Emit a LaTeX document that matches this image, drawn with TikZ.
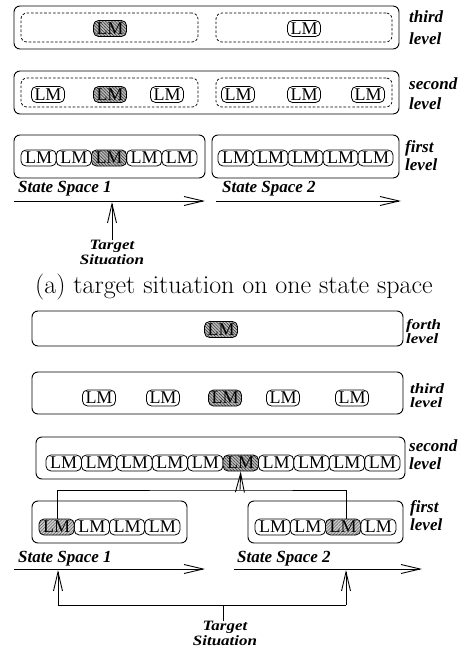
\documentclass[tikz,border=0pt]{standalone}
\usepackage{fontspec}
\newfontfamily\tfont{Liberation Serif}
\usetikzlibrary{arrows.meta,patterns.meta}

% squeeze tightly stacked label lines a little in height
\newcommand\squash[1]{\scalebox{1}[0.84]{#1}}

\tikzset{
  x=1pt, y=-1pt,
  thin line/.style={line width=0.9pt},
  levelbox/.style={draw, thin line, rounded corners=6pt, inner sep=0pt},
  groupbox/.style={draw, line width=0.7pt, dash pattern=on 2.6pt off 1.8pt, rounded corners=6pt, inner sep=0pt},
  lm/.style={draw, line width=0.8pt, rounded corners=5pt, minimum width=33pt, minimum height=16pt,
    inner sep=0pt, font=\tfont\fontsize{18}{18}\selectfont},
  lmrow/.style={lm, minimum width=35.2pt},
  shadeA/.style={preaction={fill=gray!55}, pattern={Lines[angle=-45,distance=2.2pt,line width=0.5pt]}, pattern color=black!80},
  shadeB/.style={preaction={fill=gray!40}, pattern={Lines[angle=45,distance=2.2pt,line width=0.45pt]}, pattern color=black!65},
  lbl/.style={font=\tfont\bfseries\itshape\fontsize{17}{17}\selectfont, inner sep=0pt, anchor=base west},
  ctr/.style={lbl, anchor=base},
  axis/.style={thin line, -{Straight Barb[length=19pt,width=9pt,line width=0.9pt]}},
  link/.style={thin line},
}

\begin{document}
\begin{tikzpicture}
\useasboundingbox (0,0) rectangle (467,650);

% ---------------- (a) ----------------
% third level
\node[levelbox, minimum width=385pt, minimum height=43pt] (a3) at (206.5,27.5) {};
\node[groupbox, minimum width=177pt, minimum height=29pt] (a3g1) at (109.5,27.5) {};
\node[groupbox, minimum width=176pt, minimum height=29pt] (a3g2) at (304,27.5) {};
\node[lm, shadeA] (a3m1) at (110,28.5) {LM};
\node[lm] (a3m2) at (304,28.5) {LM};
\node[lbl] (a3t) at (409,23) {third};
\node[lbl] (a3l) at (409,45) {level};

% second level
\node[levelbox, minimum width=385pt, minimum height=43pt] (a2) at (206.5,92.5) {};
\node[groupbox, minimum width=177pt, minimum height=29pt] (a2g1) at (109.5,92.5) {};
\node[groupbox, minimum width=176pt, minimum height=29pt] (a2g2) at (304,92.5) {};
\foreach \i/\x/\s in {1/48/,2/110/shadeA,3/167/,4/238/,5/304/,6/368/}
  \node[lm,\s] (a2m\i) at (\x,94.5) {LM};
\node[lbl] (a2t) at (409,90) {second};
\node[lbl] (a2l) at (409,110) {level};

% first level
\node[levelbox, minimum width=191pt, minimum height=43pt] (a1L) at (109.5,156.5) {};
\node[levelbox, minimum width=187pt, minimum height=43pt] (a1R) at (305.5,156.5) {};
\foreach \i/\s [evaluate=\i as \x using 21+35.2*(\i-0.5)] in {1/,2/,3/shadeA,4/,5/}
  \node[lmrow,\s] (a1l\i) at (\x,158) {LM};
\foreach \i [evaluate=\i as \x using 218+35*(\i-0.5)] in {1,...,5}
  \node[lmrow, minimum width=35pt] (a1r\i) at (\x,158) {LM};
\node[lbl] (a1t) at (405,153) {first};
\node[lbl] (a1l) at (405,170) {level};

% state space axes
\node[lbl] (ssa1) at (18,192) {State Space 1};
\node[lbl] (ssa2) at (222,192) {State Space 2};
\coordinate (ax1s) at (14,201);  \coordinate (ax1e) at (205,201);
\coordinate (ax2s) at (216,201); \coordinate (ax2e) at (401,201);
\draw[axis] (ax1s) -- (ax1e);
\draw[axis] (ax2s) -- (ax2e);

% target situation
\node[ctr] (tgA) at (112,249) {\squash{Target}};
\node[ctr] (stA) at (112,264) {\squash{Situation}};
\coordinate (tipA) at (112,202);
\draw[axis] ([yshift=-1pt]tgA.north) -- (tipA);

% caption
\node[font=\fontsize{26}{26}\selectfont, inner sep=0pt, anchor=base] (cap) at (234,293)
  {(a) target situation on one state space};

% ---------------- (b) ----------------
% forth level
\node[levelbox, minimum width=371pt, minimum height=35pt] (b4) at (217.5,328.5) {};
\node[lm, shadeA] (b4m) at (221,329.5) {LM};
\node[lbl] (b4t) at (406,329) {\squash{forth}};
\node[lbl] (b4l) at (406,343) {\squash{level}};

% third level
\node[levelbox, minimum width=371pt, minimum height=42pt] (b3) at (217.5,393) {};
\foreach \i/\x/\s in {1/99/,2/163/,3/225/shadeA,4/283/,5/352/}
  \node[lm,\s] (b3m\i) at (\x,398) {LM};
\node[lbl] (b3t) at (410,393) {\squash{third}};
\node[lbl] (b3l) at (410,407) {\squash{level}};

% second level
\node[levelbox, minimum width=369pt, minimum height=42pt] (b2) at (220.5,458) {};
\foreach \i/\s [evaluate=\i as \x using 46+35.4*(\i-0.5)] in {1/,2/,3/,4/,5/,6/shadeA,7/,8/,9/,10/}
  \node[lm,\s, minimum width=35.4pt] (b2m\i) at (\x,463) {LM};
\node[lbl] (b2t) at (409,451) {second};
\node[lbl] (b2l) at (409,469) {level};

% first level
\node[levelbox, minimum width=155pt, minimum height=42pt] (b1L) at (109.5,522) {};
\node[levelbox, minimum width=155pt, minimum height=42pt] (b1R) at (325.5,522) {};
\foreach \i/\s [evaluate=\i as \x using 39+35.25*(\i-0.5)] in {1/shadeB,2/,3/,4/}
  \node[lm,\s, minimum width=35.25pt] (b1l\i) at (\x,527) {LM};
\foreach \i/\s [evaluate=\i as \x using 255+35.25*(\i-0.5)] in {1/,2/,3/shadeB,4/}
  \node[lm,\s, minimum width=35.25pt] (b1r\i) at (\x,527) {LM};
\node[lbl] (b1t) at (410,512) {first};
\node[lbl] (b1l) at (410,530) {level};

% links from the first level up to the second level
\coordinate (hub) at (240,490);
\draw[link] ([xshift=1pt]b1l1.north) |- (hub) -| ([xshift=3pt]b1r3.north);
\draw[axis] (hub) -- (b2m6.south);

% state space axes
\node[lbl] (ssb1) at (18,562) {State Space 1};
\node[lbl] (ssb2) at (237,562) {State Space 2};
\coordinate (bx1s) at (14,569);  \coordinate (bx1e) at (205,569);
\coordinate (bx2s) at (234,569); \coordinate (bx2e) at (422,569);
\draw[axis] (bx1s) -- (bx1e);
\draw[axis] (bx2s) -- (bx2e);

% target situation on both state spaces
\coordinate (jl) at (58,605);  \coordinate (jr) at (346,605);
\coordinate (tl) at (58,570);  \coordinate (tr) at (346,570);
\draw[link] (jl) -- (jr);
\draw[axis] (jl) -- (tl);
\draw[axis] (jr) -- (tr);
\node[ctr] (tgB) at (225,630) {\squash{Target}};
\node[ctr] (stB) at (225,645) {\squash{Situation}};
\coordinate (tick) at (223,605);
\draw[link] ([xshift=-2pt,yshift=-1pt]tgB.north) -- (tick);
\end{tikzpicture}
\end{document}
